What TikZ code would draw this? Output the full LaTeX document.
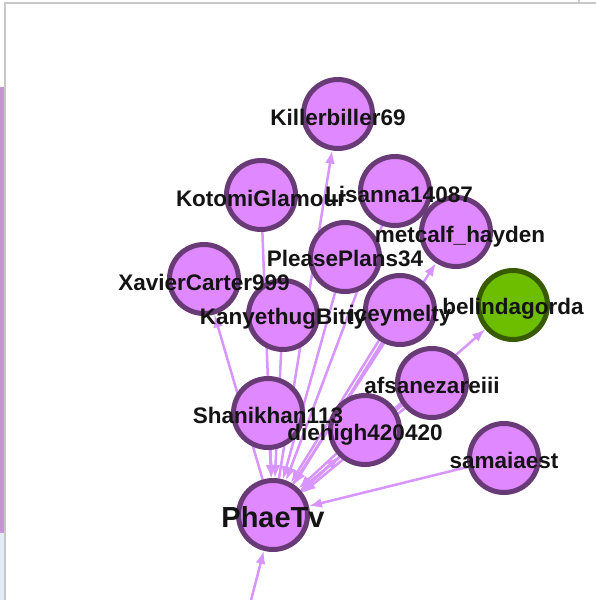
\documentclass[tikz,border=0pt]{standalone}
\usepackage{fontspec}
\setmainfont{Liberation Sans}
\usetikzlibrary{arrows.meta}
\pgfdeclarelayer{bg}
\pgfsetlayers{bg,main}
\definecolor{nfill}{RGB}{223,136,255}
\definecolor{nstroke}{RGB}{104,58,118}
\definecolor{gfill}{RGB}{110,190,0}
\definecolor{gstroke}{RGB}{56,90,0}
\definecolor{ecol}{RGB}{216,148,255}
\definecolor{framecol}{RGB}{200,200,200}
\definecolor{stripcol}{RGB}{196,150,214}
\definecolor{stripcolb}{RGB}{228,236,248}
\begin{document}
\begin{tikzpicture}[x=1pt,y=-1pt,
  person/.style={circle,draw=nstroke,fill=nfill,line width=5pt,minimum size=69pt,inner sep=0pt},
  seed/.style={person,draw=gstroke,fill=gfill},
  lbl/.style={font=\fontsize{22.5}{26}\selectfont\bfseries,text=black!92,inner sep=0pt},
  biglbl/.style={font=\fontsize{29}{34}\selectfont\bfseries,text=black!92,inner sep=0pt},
  edge/.style={draw=ecol,line width=2.5pt,-{Latex[length=13pt,width=10pt]}},
]
\useasboundingbox (0,0) rectangle (596,600);

% nodes (circles)
\node[person] (kil) at (338,114) {};
\node[person] (kot) at (261,195) {};
\node[person] (lis) at (395,191) {};
\node[person] (met) at (456,232) {};
\node[person] (ple) at (345,257) {};
\node[person] (xav) at (204,279) {};
\node[person] (kan) at (283,315) {};
\node[person] (ice) at (400,310) {};
\node[seed]   (bel) at (513,305) {};
\node[person] (afs) at (432,383) {};
\node[person] (shn) at (268,413) {};
\node[person] (die) at (365,430) {};
\node[person] (sam) at (504,458) {};
\node[person] (ph)  at (273,515) {};
\coordinate (src) at (248,612);

\begin{pgfonlayer}{bg}
  \fill[white] (0,0) rectangle (596,600);
  \fill[stripcol] (0,87) rectangle (4,533);
  \fill[stripcolb] (0,533) rectangle (4,600);
  \draw[framecol,line width=1.5pt] (5,600) -- (5,3) -- (596,3);
  \draw[framecol,line width=1.5pt] (579,0) -- (579,3);
  % edges
  \draw[edge] (ph) -- (kil);
  \draw[edge] (ph) -- (met);
  \draw[edge] (ph) -- (bel);
  \draw[edge] (ph) -- (xav);
  \draw[edge] (sam) -- (ph);
  \draw[edge] (src) -- (ph);
  \draw[edge] (kot) -- (ph);
  \draw[edge] (lis) -- (ph);
  \draw[edge] (ple) -- (ph);
  \draw[edge] (kan) -- (ph);
  \draw[edge] (shn) -- (ph);
  \draw[edge,transform canvas={shift={(1.6pt,-1.0pt)}}] (ice) -- (ph);
  \draw[edge,transform canvas={shift={(-1.6pt,1.0pt)}}] (ice) -- (ph);
  \draw[edge,transform canvas={shift={(1.2pt,-1.5pt)}}] (afs) -- (ph);
  \draw[edge,transform canvas={shift={(-1.2pt,1.5pt)}}] (afs) -- (ph);
  \draw[edge,transform canvas={shift={(1.4pt,-1.5pt)}}] (ph) -- (die);
  \draw[edge,transform canvas={shift={(-1.4pt,1.5pt)}}] (die) -- (ph);
\end{pgfonlayer}

% labels on top
\node[lbl] (kil-l) at ([yshift=-3pt]kil.center) {Killerbiller69};
\node[lbl] (kot-l) at ([yshift=-3pt]kot.center) {KotomiGlamour};
\node[lbl] (lis-l) at ([xshift=4pt,yshift=-3pt]lis.center) {Lisanna14087};
\node[lbl] (met-l) at ([xshift=4pt,yshift=-5pt]met.center) {metcalf\_hayden};
\node[lbl] (ple-l) at ([yshift=-1pt]ple.center) {PleasePlans34};
\node[lbl] (xav-l) at ([yshift=-3pt]xav.center) {XavierCarter999};
\node[lbl] (kan-l) at ([yshift=-4pt]kan.center) {KanyethugBitty};
\node[lbl] (ice-l) at ([yshift=-6pt]ice.center) {iceymelty};
\node[lbl] (bel-l) at ([yshift=-4pt]bel.center) {belindagorda};
\node[lbl] (afs-l) at ([yshift=-2pt]afs.center) {afsanezareiii};
\node[lbl] (shn-l) at ([yshift=-2pt]shn.center) {Shanikhan113};
\node[lbl] (die-l) at ([yshift=-5pt]die.center) {diehigh420420};
\node[lbl] (sam-l) at ([yshift=-2pt]sam.center) {samaiaest};
\node[biglbl] (ph-l) at ([yshift=-2pt]ph.center) {PhaeTv};
\end{tikzpicture}
\end{document}
